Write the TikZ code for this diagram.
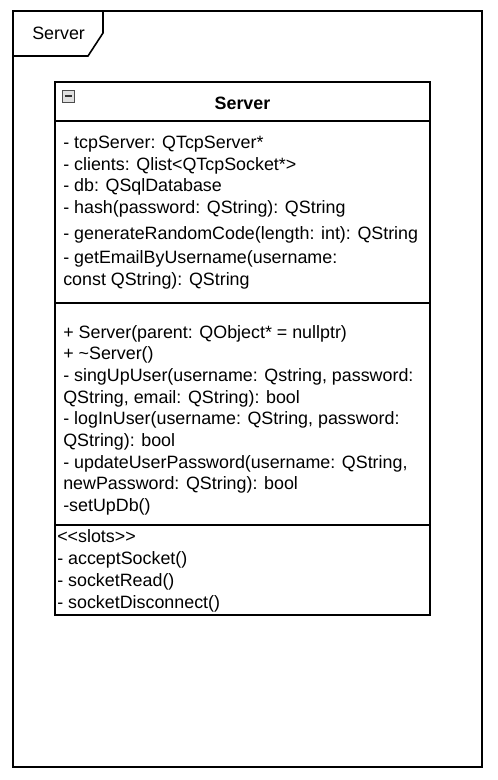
\documentclass[tikz,border=0pt]{standalone}
\usepackage{fontspec}
\setmainfont{Liberation Sans}
\usetikzlibrary{positioning}

\begin{document}
\begin{tikzpicture}[x=0.75pt,y=-0.75pt]

\tikzstyle{compart}=[draw,line width=1.4pt,inner sep=0pt,outer sep=0pt,minimum width=281.25pt]
\tikzstyle{member}=[inner sep=0pt,anchor=base west,font=\fontsize{13.4pt}{16pt}\selectfont]

\useasboundingbox (0,0) rectangle (497,780);

% package frame
\draw[line width=1.2pt] (13,11) rectangle (482,767);
\draw[line width=1.2pt] (13,11) -| (103,33) -- (88,56) -- (13,56);
\node[member] (framelbl) at (32,40) {Server};

% class compartments
\node[compart, minimum height=29.25pt, anchor=north west] (head) at (55,82) {};
\node[compart, minimum height=136.5pt, below=0pt of head] (attrs) {};
\node[compart, minimum height=166.5pt, below=0pt of attrs] (ops) {};
\node[compart, minimum height=67.5pt, below=0pt of ops] (slots) {};

\node[font=\fontsize{13.4pt}{16pt}\selectfont\bfseries] (title) at ([yshift=-1.5pt]head.center) {Server};

% collapse icon
\node[draw=gray!60!black, fill=gray!25, minimum size=9pt, inner sep=0pt] (fold) at (68.5,96) {};
\draw[line width=1.2pt, black!80] ([xshift=2pt]fold.west) -- ([xshift=-2pt]fold.east);

% attributes
\foreach \y/\txt [count=\k] in {149/{- tcpServer: QTcpServer*},
    171/{- clients: Qlist<QTcpSocket*>},
    192/{- db: QSqlDatabase},
    214/{- hash(password: QString): QString},
    239/{- generateRandomCode(length: int): QString},
    263/{- getEmailByUsername(username:},
    285/{const QString): QString}}
  \node[member] (attr\k) at (63,\y) {\txt};

% operations
\foreach \y/\txt [count=\k] in {338/{+ Server(parent: QObject* = nullptr)},
    359/{+ \textasciitilde Server()},
    381/{- singUpUser(username: Qstring, password:},
    403/{QString, email: QString): bool},
    424/{- logInUser(username: QString, password:},
    446/{QString): bool},
    468/{- updateUserPassword(username: QString,},
    489/{newPassword: QString): bool},
    511/{-setUpDb()}}
  \node[member] (op\k) at (63,\y) {\txt};

% slots
\foreach \y/\txt [count=\k] in {542/{<{}<slots>{}>},
    564/{- acceptSocket()},
    586/{- socketRead()},
    608/{- socketDisconnect()}}
  \node[member] (slot\k) at (57,\y) {\txt};

\end{tikzpicture}
\end{document}
